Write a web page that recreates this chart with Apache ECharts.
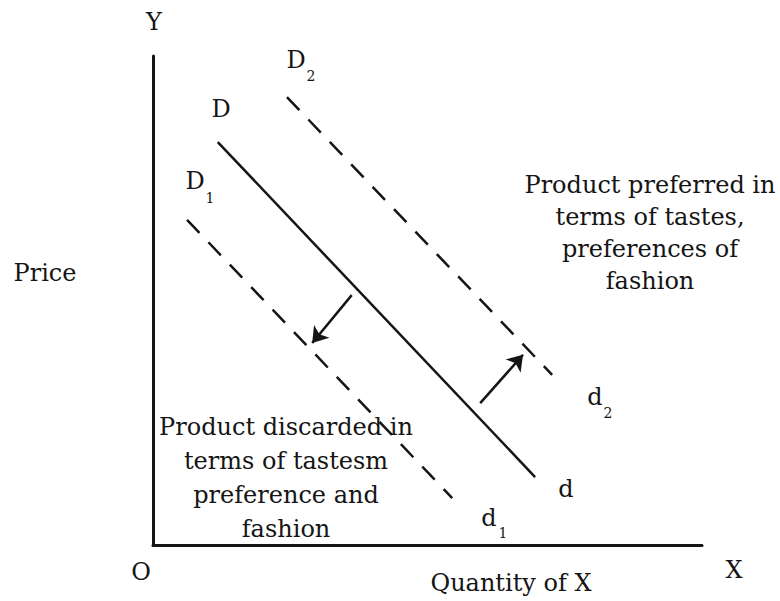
<!DOCTYPE html>
<html>
<head>
<meta charset="utf-8">
<style>
  html, body { margin: 0; padding: 0; background: #fff; }
  #chart { width: 780px; height: 601px; }
</style>
<script src="https://cdn.jsdelivr.net/npm/echarts@6/dist/echarts.min.js"></script>
</head>
<body>
<div id="chart"></div>
<script>
// 数据（坐标轴 0-100 的相对刻度）
var curveD = [[11.8, 82.4], [69.6, 13.9]];
var curveD1 = [[6.2, 66.5], [54.5, 9.6]];
var curveD2 = [[24.4, 91.6], [72.7, 34.8]];
var shiftLeft = [[36.2, 51.1], [29.0, 41.3]];
var shiftRight = [[59.6, 29.0], [67.4, 38.9]];
var leftNote = ['Product discarded in', 'terms of tastesm', 'preference and', 'fashion'];
var rightNote = ['Product preferred in', 'terms of tastes,', 'preferences of', 'fashion'];

(function() {
  var myChart = echarts.init(document.getElementById('chart'), null, { renderer: 'svg' });
  var ink = '#151515';
  var font = 'DejaVu Serif';

  // 普通文字
  function txt(text, x, y, size, align) {
    return {
      type: 'text',
      x: x,
      y: y,
      style: {
        text: text,
        fontFamily: font,
        fontSize: size || 24,
        fill: ink,
        textAlign: align || 'center',
        textVerticalAlign: 'middle'
      }
    };
  }

  var option = {
    backgroundColor: '#fff',
    animation: false,
    grid: { left: 153, right: 78, top: 56, bottom: 56 },
    xAxis: {
      type: 'value', min: 0, max: 100,
      axisLine: { lineStyle: { color: ink, width: 3 } },
      axisTick: { show: false },
      axisLabel: { show: false },
      splitLine: { show: false }
    },
    yAxis: {
      type: 'value', min: 0, max: 100,
      axisLine: { lineStyle: { color: ink, width: 3 } },
      axisTick: { show: false },
      axisLabel: { show: false },
      splitLine: { show: false }
    },
    series: [
      {
        name: 'D', type: 'line', data: curveD, symbol: 'none',
        lineStyle: { color: ink, width: 2.5 }
      },
      {
        name: 'D1', type: 'line', data: curveD1, symbol: 'none',
        lineStyle: { color: ink, width: 2.5, type: [18, 13] }
      },
      {
        name: 'D2', type: 'line', data: curveD2, symbol: 'none',
        lineStyle: { color: ink, width: 2.5, type: [18, 13] }
      },
      {
        type: 'lines', coordinateSystem: 'cartesian2d',
        symbol: ['none', 'arrow'], symbolSize: 15,
        lineStyle: { color: ink, width: 2.5, opacity: 1 },
        data: [{ coords: shiftLeft }, { coords: shiftRight }]
      }
    ],
    graphic: [
      txt('Y', 154, 22),
      txt('X', 734, 570),
      txt('O', 141, 572),
      txt('Price', 45, 273, 24),
      txt('Quantity of X', 511, 583),
      txt('D', 221, 109),
      txt('D', 296, 60),
      txt('2', 311, 76, 14),
      txt('D', 195, 181),
      txt('1', 210, 198, 14),
      txt('d', 595, 397),
      txt('2', 608, 413, 14),
      txt('d', 566, 489),
      txt('d', 489, 518),
      txt('1', 503, 533, 14),
      {
        type: 'text', x: 650, y: 169,
        style: {
          text: rightNote.join('\n'), fontFamily: font, fontSize: 24, fill: ink,
          textAlign: 'center', textVerticalAlign: 'top', lineHeight: 32
        }
      },
      {
        type: 'text', x: 286, y: 410,
        style: {
          text: leftNote.join('\n'), fontFamily: font, fontSize: 24, fill: ink,
          textAlign: 'center', textVerticalAlign: 'top', lineHeight: 34
        }
      }
    ]
  };
  myChart.setOption(option);
  window.addEventListener('resize', function() {
    myChart.resize();
  });
})();
</script>
</body>
</html>
